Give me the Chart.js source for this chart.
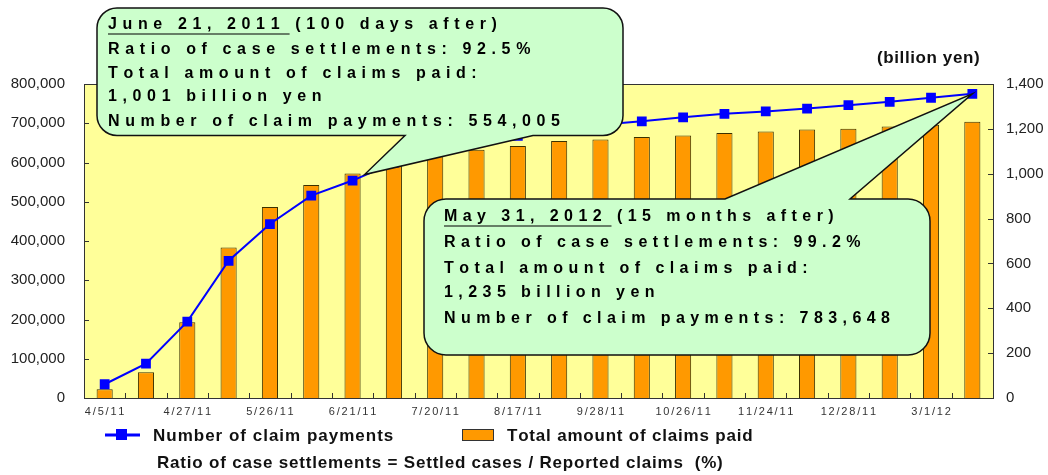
<!DOCTYPE html>
<html>
<head>
<meta charset="utf-8">
<script src="https://cdn.jsdelivr.net/npm/chart.js@4.4.1/dist/chart.umd.min.js"></script>
<style>
  body { margin: 0; background: #fff; }
</style>
</head>
<body>
<canvas id="chart" width="1048" height="475"></canvas>
<script>
// data
var categories = ['4/5/11', '', '4/27/11', '', '5/26/11', '', '6/21/11', '', '7/20/11', '', '8/17/11', '',
                  '9/28/11', '', '10/26/11', '', '11/24/11', '', '12/28/11', '', '3/1/12', ''];
var claimPayments = [35000, 87500, 194700, 349600, 443200, 515500, 554005, 600000, 630000, 650000, 668000,
                     683000, 696000, 705000, 715000, 724000, 730000, 737500, 746000, 754500, 765000, 775000];
var claimsPaid = [39, 115, 338, 671, 852, 950, 1001, 1050, 1085, 1107, 1124,
                  1146, 1153, 1164, 1170, 1182, 1188, 1197, 1200, 1210, 1218, 1232];
var seriesNames = ['Number of claim payments', 'Total amount of claims paid'];
var leftMax = 800000, leftStep = 100000;
var rightMax = 1400, rightStep = 200;
var rightUnit = '(billion yen)';
var footNote = 'Ratio of case settlements = Settled cases / Reported claims  (%)';

var callout1 = {
  title: 'June 21, 2011 ', titleRest: '(100 days after)',
  lines: ['Ratio of case settlements: 92.5%', 'Total amount of claims paid:', '1,001 billion yen', 'Number of claim payments: 554,005'],
  index: 6
};
var callout2 = {
  title: 'May 31, 2012 ', titleRest: '(15 months after)',
  lines: ['Ratio of case settlements: 99.2%', 'Total amount of claims paid:', '1,235 billion yen', 'Number of claim payments: 783,648'],
  index: 21
};

var FONT = '"Liberation Sans", Arial, sans-serif';
var fmt = new Intl.NumberFormat('en-US');

function spacedText(ctx, text, x, y, sp) {
  for (var i = 0; i < text.length; i++) {
    ctx.fillText(text[i], x, y);
    x += ctx.measureText(text[i]).width + sp;
  }
  return x;
}
function spacedWidth(ctx, text, sp) {
  var w = 0;
  for (var i = 0; i < text.length; i++) w += ctx.measureText(text[i]).width + sp;
  return w - sp;
}

// rounded box with a pointer; side = 'bottom' or 'top'
function calloutPath(ctx, b, r, side, baseA, baseB, tip) {
  var x0 = b.x, y0 = b.y, x1 = b.x + b.w, y1 = b.y + b.h;
  ctx.beginPath();
  ctx.moveTo(x0 + r, y0);
  if (side === 'top') {
    ctx.lineTo(baseA, y0);
    ctx.lineTo(tip.x, tip.y);
    ctx.lineTo(baseB, y0);
  }
  ctx.arcTo(x1, y0, x1, y1, r);
  ctx.arcTo(x1, y1, x0, y1, r);
  if (side === 'bottom') {
    ctx.lineTo(baseB, y1);
    ctx.lineTo(tip.x, tip.y);
    ctx.lineTo(baseA, y1);
  }
  ctx.arcTo(x0, y1, x0, y0, r);
  ctx.arcTo(x0, y0, x1, y0, r);
  ctx.closePath();
}

function drawCallout(ctx, c, tx, rowY, targetW) {
  ctx.font = 'bold 16px ' + FONT;
  ctx.fillStyle = '#000';
  ctx.textBaseline = 'middle';
  var last = c.lines[c.lines.length - 1];
  var nat = spacedWidth(ctx, last, 0);
  var sp = (targetW - nat) / (last.length - 1);
  var endU = spacedText(ctx, c.title, tx, rowY[0], sp);
  ctx.beginPath();
  ctx.moveTo(tx, rowY[0] + 9);
  ctx.lineTo(endU - sp, rowY[0] + 9);
  ctx.lineWidth = 1.2;
  ctx.strokeStyle = '#000';
  ctx.stroke();
  spacedText(ctx, c.titleRest, endU, rowY[0], sp);
  for (var i = 0; i < c.lines.length; i++) {
    spacedText(ctx, c.lines[i], tx, rowY[i + 1], sp);
  }
}

var decor = {
  id: 'decor',
  beforeDraw: function (chart) {
    var a = chart.chartArea, ctx = chart.ctx;
    ctx.save();
    ctx.fillStyle = '#FFFF99';
    ctx.fillRect(a.left, a.top, a.right - a.left, a.bottom - a.top);
    ctx.restore();
  },
  afterDatasetsDraw: function (chart) {
    var ctx = chart.ctx, a = chart.chartArea;
    var sx = chart.scales.x, sy = chart.scales.y, sy1 = chart.scales.y1;
    ctx.save();
    ctx.strokeStyle = '#333';
    ctx.lineWidth = 1;
    ctx.beginPath();
    ctx.moveTo(a.left, a.top + 0.5);
    ctx.lineTo(a.right, a.top + 0.5);
    sy.ticks.forEach(function (t) {
      var p = Math.round(sy.getPixelForValue(t.value)) + 0.5;
      ctx.moveTo(a.left, p); ctx.lineTo(a.left + 5, p);
    });
    sy1.ticks.forEach(function (t) {
      var p = Math.round(sy1.getPixelForValue(t.value)) + 0.5;
      ctx.moveTo(a.right, p); ctx.lineTo(a.right - 5, p);
    });
    for (var i = 1; i < categories.length; i++) {
      var px = Math.round((sx.getPixelForValue(i - 1) + sx.getPixelForValue(i)) / 2) + 0.5;
      ctx.moveTo(px, a.bottom); ctx.lineTo(px, a.bottom - 5);
    }
    ctx.stroke();

    // category labels, letter-spaced like the original
    ctx.fillStyle = '#333';
    ctx.font = '11px ' + FONT;
    ctx.textBaseline = 'middle';
    categories.forEach(function (lab, i) {
      if (!lab) return;
      var w = spacedWidth(ctx, lab, 1.8);
      spacedText(ctx, lab, sx.getPixelForValue(i) - w / 2, a.bottom + 14, 1.8);
    });
    ctx.restore();
  },
  afterDraw: function (chart) {
    var ctx = chart.ctx;
    var pts = chart.getDatasetMeta(0).data;
    ctx.save();

    // callout 1
    var p1 = pts[callout1.index];
    var b1 = { x: 97, y: 8, w: 526, h: 127.5 };
    calloutPath(ctx, b1, 20, 'bottom', 405, 533, { x: p1.x + 12, y: p1.y - 6 });
    ctx.fillStyle = '#CCFFCC';
    ctx.fill();
    ctx.lineWidth = 1.5;
    ctx.strokeStyle = '#111';
    ctx.stroke();
    drawCallout(ctx, callout1, 108, [25, 50, 74, 97, 122], 452);

    // callout 2
    var p2 = pts[callout2.index];
    var b2 = { x: 424, y: 199, w: 506, h: 156 };
    calloutPath(ctx, b2, 22, 'top', 725, 850, { x: p2.x, y: p2.y });
    ctx.fillStyle = '#CCFFCC';
    ctx.fill();
    ctx.lineWidth = 1.5;
    ctx.strokeStyle = '#111';
    ctx.stroke();
    drawCallout(ctx, callout2, 444, [217, 243, 269, 293, 319], 446);

    // unit label
    ctx.fillStyle = '#111';
    ctx.textBaseline = 'middle';
    ctx.font = 'bold 17px ' + FONT;
    spacedText(ctx, rightUnit, 877, 58, 0.6);

    // legend
    var ds = chart.data.datasets;
    ctx.strokeStyle = ds[0].borderColor;
    ctx.lineWidth = 3;
    ctx.beginPath();
    ctx.moveTo(105, 435); ctx.lineTo(140, 435);
    ctx.stroke();
    ctx.fillStyle = ds[0].pointBackgroundColor;
    ctx.fillRect(116, 429, 11, 11);
    ctx.fillStyle = ds[1].backgroundColor;
    ctx.fillRect(462, 429, 31, 11);
    ctx.strokeStyle = '#333';
    ctx.lineWidth = 1;
    ctx.strokeRect(462.5, 429.5, 31, 11);
    ctx.fillStyle = '#111';
    ctx.font = 'bold 17px ' + FONT;
    spacedText(ctx, ds[0].label, 153, 436, 1);
    spacedText(ctx, ds[1].label, 507, 436, 0.8);
    spacedText(ctx, footNote, 157, 463, 0.8);
    ctx.restore();
  }
};

new Chart(document.getElementById('chart'), {
  type: 'bar',
  data: {
    labels: categories,
    datasets: [{
      type: 'line',
      label: seriesNames[0],
      data: claimPayments,
      yAxisID: 'y',
      borderColor: '#0000FF',
      borderWidth: 2,
      pointStyle: 'rect',
      pointRadius: 5.5,
      pointBackgroundColor: '#0000FF',
      pointBorderColor: '#0000FF',
      tension: 0,
      order: 0
    }, {
      type: 'bar',
      label: seriesNames[1],
      data: claimsPaid,
      yAxisID: 'y1',
      backgroundColor: '#FF9900',
      borderColor: '#3a3000',
      borderWidth: 1,
      barPercentage: 0.39,
      categoryPercentage: 1,
      order: 1
    }]
  },
  options: {
    responsive: false,
    devicePixelRatio: 1,
    animation: false,
    layout: { padding: { top: 84, left: 0, right: 0, bottom: 0 } },
    plugins: { legend: { display: false }, tooltip: { enabled: false } },
    scales: {
      x: {
        grid: { display: false },
        border: { display: true, color: '#333' },
        ticks: { display: false },
        afterFit: function (s) { s.height = 77; }
      },
      y: {
        position: 'left',
        min: 0, max: leftMax,
        grid: { display: false },
        border: { display: true, color: '#333' },
        ticks: {
          stepSize: leftStep, padding: 11, color: '#222',
          font: { family: FONT, size: 15 },
          callback: function (v) { return fmt.format(v); }
        },
        afterFit: function (s) { s.width = 84; }
      },
      y1: {
        position: 'right',
        min: 0, max: rightMax,
        grid: { display: false },
        border: { display: true, color: '#333' },
        ticks: {
          stepSize: rightStep, padding: 5, color: '#222',
          font: { family: FONT, size: 15 },
          callback: function (v) { return fmt.format(v); }
        },
        afterFit: function (s) { s.width = 55; }
      }
    }
  },
  plugins: [decor]
});
</script>
</body>
</html>
